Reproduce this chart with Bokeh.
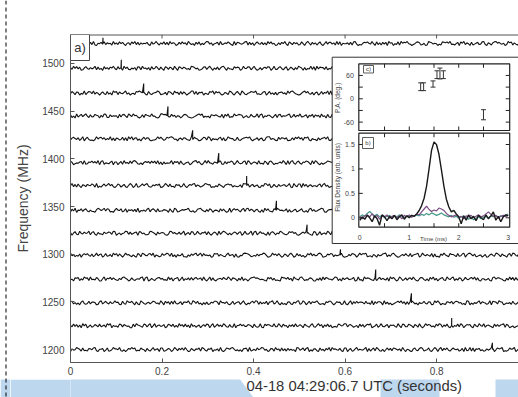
import numpy as np
from bokeh.plotting import figure
from bokeh.layouts import row, column
from bokeh.models import Range1d, FixedTicker
from bokeh.embed import file_html
from bokeh.resources import INLINE
from bokeh.core.properties import value

# ------------------------------------------------------------------ data
chan_freq = [1521, 1495, 1469, 1445, 1421, 1396, 1372, 1346, 1322, 1299, 1274, 1249, 1225, 1200]
spike_time = [0.071, 0.111, 0.160, 0.213, 0.267, 0.324, 0.385, 0.450, 0.517, 0.590, 0.667, 0.745, 0.833, 0.922]
spike_height = [6, 9, 10, 10, 9, 10, 10, 10, 9, 6, 10, 10, 8, 7]
noise_unit = 0.47  # MHz per digit step
noise = [
    "53746 28195 46372 91054 73826 45193 62847 30561 84927 16354 72083 59416 38271 94650 27384 61952 40738 15269 83604 57192 36485 20917 64358 91726 05843 72619 48350 16274 93085 27461"
    "28406 95173 61582 04937 73619 28054 46271 89302 15768 53940 82617 37095 60428 19576 94302 47861 25019 76354 03187 68592 31470 85926 40713 57238 92064 16895 74350 29681 63147 08523",
    "62948 37015 84263 59172 40836 27594 18360 94721 53608 71945 26083 49517 30862 75194 08637 52419 86350 13782 69405 27158 94063 31857 60294 48715 93026 15748 70392 26841 58037 41629"
    "75061 43928 09376 62814 38592 91047 26735 54180 87263 10459 69832 42176 05398 78614 31057 96243 57820 24691 80375 13964 69208 45713 02856 97340 36182 71495 58027 14369 89652 40718",
    "38517 60429 15873 92640 47318 25096 81743 69250 34187 97562 08314 56971 23608 74195 61827 40359 92816 57043 18692 85730 26419 73058 40962 14587 69231 37804 82516 05673 51948 96320"
    "14795 83260 57038 26491 90614 43857 72103 38962 65247 01589 49376 86120 23754 57069 94813 12645 60398 85271 31907 76432 48516 03298 67154 29843 95607 18372 52089 74163 36920 81547",
    "71409 25836 94172 38650 62981 17354 50827 84196 39562 02718 65394 41029 97853 28461 54037 86210 13579 69142 40765 75328 08491 32956 87603 51284 24917 90536 63048 17825 45791 38264"
    "92357 06481 74619 35082 18724 60935 43596 97218 26045 81573 50869 13742 69204 34587 87126 20935 56471 03718 79362 41850 95623 28147 64098 12536 47985 86201 30754 53619 09842 65370",
    "26853 71490 58312 03947 84725 39160 65238 17094 92671 40583 76102 24958 51386 89734 05627 63219 38540 14872 97053 42681 70396 55128 21467 86930 34715 60289 93541 08376 47012 72859"
    "47186 92053 30725 68491 15938 82604 59271 24367 76810 43592 08145 91763 37028 65419 20584 73196 46302 91857 58634 17290 84715 36048 62193 95731 01846 29567 73482 40915 86273 13059",
    "85024 36719 12658 47390 79143 25806 60471 93528 38962 14057 57384 82916 06243 49175 71830 35602 68947 20493 94316 53781 17265 86049 42378 09614 65192 31850 78403 24639 50917 93168"
    "31658 74092 96204 13587 65819 40236 27945 83061 50372 19684 84510 26973 72648 09135 43897 61502 18726 95340 37061 82459 69834 04721 51967 28305 76148 43592 90617 15284 64930 37865",
    "49271 83065 27548 61903 15836 94720 38614 72059 60391 25847 93126 47580 14962 82307 56139 30475 89264 13598 67021 42853 05786 71432 36098 98157 24610 53984 80273 17346 62591 09428"
    "80937 15624 42681 79350 23496 58013 71852 06349 94125 36708 57493 81260 26057 43918 69384 15726 30591 87642 52168 09473 73805 46291 18524 95637 61049 27386 84715 30962 57218 12847",
    "17390 54826 83152 20697 46938 71205 95481 38064 62719 04352 79168 51823 36540 83097 12465 67931 40278 95316 28604 54183 73029 06857 41692 89375 15720 60948 32186 97453 48061 25713"
    "58214 07936 23579 81046 67302 94185 39658 12740 81426 57093 20961 46857 74318 03629 95172 38460 16893 52704 49235 81067 02749 65381 37516 29804 84671 53029 61398 07452 29586 76134",
    "60582 19437 45916 82063 31745 76298 03514 59827 24670 87351 12986 40735 65102 98463 37259 04618 71394 26581 83047 50926 97415 14762 68039 32590 79148 45207 06851 53974 21386 84610"
    "25749 63108 70381 45296 19637 52804 84062 37519 46193 20785 63518 87402 31974 56820 08356 94173 52681 30947 76405 19382 43859 07216 95024 68371 30798 51642 17356 84209 62913 48570",
    "93614 27058 58427 14936 70382 36195 82740 49563 15208 61974 37849 05312 84697 29150 63481 10527 47936 92845 35018 78264 21693 56071 04389 87512 42736 69840 13957 38402 75169 50283"
    "61402 85937 34896 01275 87153 46920 12638 75049 58791 23064 06347 89152 79520 14638 42815 67903 95364 28071 20749 53186 64182 37905 89637 12450 36015 74298 51743 06829 84296 15370",
    "34076 81529 67193 42850 05916 58374 21638 96402 73145 48907 90263 15784 62319 37056 80491 53728 26845 71930 49172 04563 85396 17640 62915 30478 96753 43108 58261 21097 74836 09542"
    "89513 26740 05271 93864 42698 15073 67345 80192 30957 64218 15836 42709 58402 96137 26739 41058 73150 84926 04682 19537 91527 60384 36849 27105 52361 08947 75410 62938 18276 40593",
    "78251 40693 13826 65017 92584 27349 56108 31965 84072 09631 46258 73419 50847 18293 24706 65931 97382 40516 12648 86095 53720 38146 71593 04268 49817 25380 67924 93051 30672 16489"
    "13960 48275 69412 30758 84037 56129 20591 73846 65283 41907 37750 92614 02468 59371 71896 24053 48327 60195 95032 17648 26874 51309 80415 36927 54139 08762 97602 43518 31485 67029",
    "52837 16094 80361 37528 24619 69053 41872 75340 08296 53187 26904 91563 47028 63815 19472 82609 35146 04738 70591 48362 96217 21905 58473 37640 83129 10857 64392 29518 45063 72934"
    "74085 31692 15947 06382 60231 87459 92674 13508 37158 69024 81493 25706 56319 40872 28640 75193 03957 62418 49716 38205 15382 96047 67208 42953 91564 20837 36791 85024 02459 63178",
    "06349 75182 31764 89205 57038 12496 64921 40375 96813 28540 73159 35608 81247 50396 27483 94017 42658 19731 65804 36192 03875 89524 14067 70913 52846 98350 27619 46182 61735 34098"
    "35827 90416 62083 51749 19564 37208 80471 26935 43690 71582 96215 04837 28753 61940 54106 83279 71348 20596 06927 48315 85461 37092 39180 65724 12635 97048 67902 13856 90374 52681",
]
freq_ticks = [1200, 1250, 1300, 1350, 1400, 1450, 1500]
time_ticks = [0, 0.2, 0.4, 0.6, 0.8]
time_tick_labels = ["0", "0.2", "0.4", "0.6", "0.8"]
y_title = "Frequency (MHz)"
x_title = "04-18 04:29:06.7 UTC (seconds)"

# inset: pulse profile (ms) and position angle
prof_time = [round(0.05 * i, 2) for i in range(61)]
flux_total = [-0.05, 0.02, -0.03, 0.05, 0.0, -0.08, 0.04, -0.02, -0.15, 0.06,
              0.02, -0.06, 0.03, -0.02, 0.05, -0.04, 0.02, 0.06, -0.03, 0.04,
              0.0, 0.05, 0.03, 0.08, 0.15, 0.25, 0.40, 0.65, 1.00, 1.38,
              1.55, 1.50, 1.30, 0.98, 0.65, 0.38, 0.22, 0.12, 0.15, 0.08,
              0.02, -0.12, 0.04, -0.05, 0.06, -0.02, 0.03, -0.06, 0.05, 0.0,
              -0.04, 0.06, -0.02, 0.04, 0.12, -0.05, 0.03, -0.08, 0.02, 0.06, 0.04]
flux_purple = [0.03, -0.02, 0.04, 0.06, 0.02, 0.08, 0.01, 0.05, -0.03, 0.04,
               0.02, 0.06, -0.01, 0.03, 0.05, 0.0, 0.04, -0.02, 0.05, 0.02,
               0.06, 0.01, 0.04, 0.08, 0.06, 0.12, 0.18, 0.24, 0.17, 0.13,
               0.16, 0.14, 0.20, 0.18, 0.15, 0.09, 0.05, 0.02, 0.04, 0.06,
               0.01, 0.03, -0.02, 0.04, 0.02, 0.05, 0.0, 0.03, 0.06, 0.02,
               0.04, 0.08, 0.12, 0.07, 0.03, 0.05, -0.01, 0.03, 0.05, 0.02, 0.06]
flux_green = [0.02, 0.06, 0.03, 0.09, 0.13, 0.08, 0.04, 0.07, 0.02, 0.05,
              0.0, 0.03, 0.05, 0.01, 0.04, 0.02, 0.06, 0.03, 0.0, 0.04,
              0.02, 0.05, 0.03, 0.06, 0.04, 0.07, 0.05, 0.09, 0.06, 0.10,
              0.08, 0.05, 0.07, 0.10, 0.06, 0.04, 0.02, 0.05, 0.01, 0.03,
              -0.01, 0.02, 0.04, 0.0, -0.03, 0.01, -0.04, -0.01, 0.02, -0.02,
              0.01, 0.03, 0.0, 0.04, 0.02, 0.05, 0.01, 0.04, 0.02, 0.05, 0.08]
pa_time = [1.23, 1.29, 1.48, 1.56, 1.62, 1.69, 2.50]
pa_deg = [31, 31, 38, 62, 65, 62, -41]
pa_err = [10, 10, 8, 10, 14, 10, 13]

inset_time_ticks = [0, 1, 2, 3]
inset_time_ticks_all = [0.5, 1, 1.5, 2, 2.5]
pa_ticks = [60, 0, -60]
pa_ticks_all = [60, 30, 0, -30, -60]
flux_ticks = [1.5, 1, 0.5, 0]
flux_tick_labels = ["1.5", "1", "0.5", "0"]

# ------------------------------------------------------------------ geometry (page px)
PAGE_W, PAGE_H = 518, 397
STRIP_W = 10            # left strip carrying the dashed page rule
STRIP_TOP = 379         # bottom strip (highlight boxes + axis title) starts here
FRAME_L, FRAME_T = 70, 34
W = PAGE_W - STRIP_W
H = STRIP_TOP
BL, BT = FRAME_L - STRIP_W, FRAME_T
FW, FH = W - BL, 328
BB = H - BT - FH
XR = (0.0, 0.979)
YR = (1186.4, 1530.4)
IX = (-5.848, 3.208)
IPA = (-678.1, 165.3)
IFL = (-2.961, 3.751)
FONT = "Liberation Sans"
TXT = "#444444"
AXC = "#555555"
BLUE = "#bdd7ee"


def px_x(px):
    return XR[0] + (px - FRAME_L) / FW * (XR[1] - XR[0])


def px_y(py):
    return YR[1] - (py - FRAME_T) / FH * (YR[1] - YR[0])


p = figure(width=W, height=H, x_range=Range1d(*XR), y_range=Range1d(*YR),
           output_backend="svg", toolbar_location=None,
           min_border_left=BL, min_border_right=0, min_border_top=BT,
           min_border_bottom=BB)
p.extra_x_ranges = {"ix": Range1d(*IX)}
p.extra_y_ranges = {"ipa": Range1d(*IPA), "ifl": Range1d(*IFL)}
p.outline_line_color = None
p.xgrid.visible = False
p.ygrid.visible = False
p.background_fill_color = "white"
p.border_fill_color = "white"

for ax in (p.xaxis[0], p.yaxis[0]):
    ax.major_tick_in = 4
    ax.major_tick_out = 0
    ax.minor_tick_in = 0
    ax.minor_tick_out = 0
    ax.axis_line_color = AXC
    ax.major_tick_line_color = AXC
    ax.major_label_text_color = TXT
    ax.major_label_text_font = FONT
    ax.major_label_text_font_size = "10px"
p.xaxis[0].ticker = FixedTicker(ticks=time_ticks)
p.xaxis[0].major_label_overrides = dict(zip(time_ticks, time_tick_labels))
p.xaxis[0].major_label_standoff = 4
p.yaxis[0].ticker = FixedTicker(ticks=freq_ticks)
p.yaxis[0].major_label_standoff = 6
p.yaxis[0].axis_label = y_title
p.yaxis[0].axis_label_text_font = FONT
p.yaxis[0].axis_label_text_font_size = "14px"
p.yaxis[0].axis_label_text_font_style = "normal"
p.yaxis[0].axis_label_text_color = TXT
p.yaxis[0].axis_label_standoff = 8

# top frame edge with inward ticks
tick_len_main = 4 / FH * (YR[1] - YR[0])
p.segment(x0=[XR[0]], y0=[YR[1]], x1=[1.0], y1=[YR[1]], line_color=AXC, line_width=2)
p.segment(x0=time_ticks, y0=[YR[1]] * len(time_ticks), x1=time_ticks,
          y1=[YR[1] - tick_len_main] * len(time_ticks), line_color=AXC, line_width=1)

# ------------------------------------------------------------------ channel traces
xs, ys = [], []
for f0, s, ts, hs in zip(chan_freq, noise, spike_time, spike_height):
    d = np.array([int(c) for c in s.replace(" ", "")], dtype=float)
    t = np.linspace(0.0, 1.0, len(d))
    y = f0 + (d - 4.5) * noise_unit
    k = int(np.searchsorted(t, ts))
    t = np.concatenate([t[:k], [ts, ts], t[k:]])
    y = np.concatenate([y[:k], [f0 + hs, f0], y[k:]])
    xs.append(list(t))
    ys.append(list(y))
p.multi_line(xs, ys, line_color="#121212", line_width=1.1)

# "a)" box
p.quad(left=[XR[0]], right=[px_x(89)], top=[YR[1]], bottom=[px_y(60)],
       fill_color="white", line_color="#444444", line_width=1)
p.text(x=[(XR[0] + px_x(89)) / 2], y=[px_y(47)], text=["a)"], text_align="center",
       text_baseline="middle", text_font=value(FONT), text_font_size=value("13px"),
       text_color="#333333")

# ------------------------------------------------------------------ inset
def ix_px(px):
    return (px - 359.3) / 49.47


def ifl_px(py):
    return (217.3 - py) / 48.87


def ipa_px(py):
    return (98.3 - py) / 0.3889


PX0, PX1 = -0.02, 3.03
PA0, PA1 = -81.5, 90
FL0, FL1 = -0.192, 1.731

p.quad(left=[ix_px(331.7)], right=[3.6], top=[ifl_px(56.7)], bottom=[ifl_px(243)],
       fill_color="white", line_color="#333333", line_width=1,
       x_range_name="ix", y_range_name="ifl")

p.line(prof_time, flux_green, line_color="#47998a", line_width=1.2, x_range_name="ix", y_range_name="ifl")
p.line(prof_time, flux_purple, line_color="#7d4e85", line_width=1.2, x_range_name="ix", y_range_name="ifl")
p.line(prof_time, flux_total, line_color="#1a1a1a", line_width=1.4, x_range_name="ix", y_range_name="ifl")

lo = [a - e for a, e in zip(pa_deg, pa_err)]
hi = [a + e for a, e in zip(pa_deg, pa_err)]
p.segment(x0=pa_time, y0=lo, x1=pa_time, y1=hi, line_color="#333333", line_width=1,
          x_range_name="ix", y_range_name="ipa")
cap = 0.05
p.segment(x0=[t - cap for t in pa_time], y0=lo, x1=[t + cap for t in pa_time], y1=lo,
          line_color="#333333", line_width=1, x_range_name="ix", y_range_name="ipa")
p.segment(x0=[t - cap for t in pa_time], y0=hi, x1=[t + cap for t in pa_time], y1=hi,
          line_color="#333333", line_width=1, x_range_name="ix", y_range_name="ipa")

p.quad(left=[PX0], right=[PX1], top=[PA1], bottom=[PA0], fill_alpha=0,
       line_color="#222222", line_width=1.2, x_range_name="ix", y_range_name="ipa")
p.quad(left=[PX0], right=[PX1], top=[FL1], bottom=[FL0], fill_alpha=0,
       line_color="#222222", line_width=1.2, x_range_name="ix", y_range_name="ifl")

tl_ms, tl_pa, tl_fl = 4 / 49.47, 4 / 0.3889, 4 / 48.87
tk = dict(line_color="#222222", line_width=1, x_range_name="ix")
p.segment(x0=[PX0] * 5, y0=pa_ticks_all, x1=[PX0 + tl_ms] * 5, y1=pa_ticks_all, y_range_name="ipa", **tk)
p.segment(x0=[PX1] * 5, y0=pa_ticks_all, x1=[PX1 - tl_ms] * 5, y1=pa_ticks_all, y_range_name="ipa", **tk)
p.segment(x0=inset_time_ticks_all, y0=[PA1] * 5, x1=inset_time_ticks_all, y1=[PA1 - tl_pa] * 5, y_range_name="ipa", **tk)
p.segment(x0=inset_time_ticks_all, y0=[PA0] * 5, x1=inset_time_ticks_all, y1=[PA0 + tl_pa] * 5, y_range_name="ipa", **tk)
p.segment(x0=[PX0] * 4, y0=flux_ticks, x1=[PX0 + tl_ms] * 4, y1=flux_ticks, y_range_name="ifl", **tk)
p.segment(x0=[PX1] * 4, y0=flux_ticks, x1=[PX1 - tl_ms] * 4, y1=flux_ticks, y_range_name="ifl", **tk)
p.segment(x0=inset_time_ticks_all, y0=[FL1] * 5, x1=inset_time_ticks_all, y1=[FL1 - tl_fl] * 5, y_range_name="ifl", **tk)
p.segment(x0=inset_time_ticks_all, y0=[FL0] * 5, x1=inset_time_ticks_all, y1=[FL0 + tl_fl] * 5, y_range_name="ifl", **tk)

small = dict(text_font=value(FONT), text_color=TXT, x_range_name="ix")
p.text(x=[-0.12] * 3, y=pa_ticks, text=[str(v) for v in pa_ticks], text_align="right",
       text_baseline="middle", text_font_size=value("7px"), y_range_name="ipa", **small)
p.text(x=[-0.10] * 4, y=flux_ticks, text=flux_tick_labels, text_align="right",
       text_baseline="middle", text_font_size=value("7px"), y_range_name="ifl", **small)
p.text(x=inset_time_ticks, y=[-0.41] * 4, text=[str(v) for v in inset_time_ticks],
       text_align="center", text_baseline="middle", text_font_size=value("7px"),
       y_range_name="ifl", **small)
p.text(x=[1.49], y=[-0.44], text=["Time (ms)"], text_align="center", text_baseline="middle",
       text_font_size=value("6px"), y_range_name="ifl", **small)
p.text(x=[ix_px(337)], y=[ipa_px(97.5)], text=["P.A. (deg.)"], angle=np.pi / 2,
       text_align="center", text_baseline="middle", text_font_size=value("6.5px"),
       y_range_name="ipa", **small)
p.text(x=[ix_px(337)], y=[ifl_px(177)], text=["Flux Density (arb. units)"], angle=np.pi / 2,
       text_align="center", text_baseline="middle", text_font_size=value("6.5px"),
       y_range_name="ifl", **small)

p.quad(left=[ix_px(363)], right=[ix_px(373)], top=[ipa_px(65)], bottom=[ipa_px(72.5)],
       fill_color="white", line_color="#333333", line_width=0.8, x_range_name="ix", y_range_name="ipa")
p.text(x=[ix_px(368)], y=[ipa_px(68.8)], text=["c)"], text_align="center", text_baseline="middle",
       text_font_size=value("6px"), y_range_name="ipa", **small)
p.quad(left=[ix_px(362)], right=[ix_px(373)], top=[ifl_px(137)], bottom=[ifl_px(148)],
       fill_color="white", line_color="#333333", line_width=0.8, x_range_name="ix", y_range_name="ifl")
p.text(x=[ix_px(367.5)], y=[ifl_px(142.5)], text=["b)"], text_align="center", text_baseline="middle",
       text_font_size=value("6px"), y_range_name="ifl", **small)


# ------------------------------------------------------------------ page strips (pixel ranges)
def bare(width, height, xr, yr):
    f = figure(width=width, height=height, x_range=Range1d(*xr), y_range=Range1d(*yr),
               output_backend="svg", toolbar_location=None, min_border=0,
               x_axis_location=None, y_axis_location=None)
    f.outline_line_color = None
    f.xgrid.visible = False
    f.ygrid.visible = False
    f.background_fill_color = "white"
    f.border_fill_color = "white"
    return f


# left strip: dashed page rule (y measured downward from page top)
left = bare(STRIP_W, PAGE_H, (0, STRIP_W), (PAGE_H, 0))
left.quad(left=[0], right=[STRIP_W], top=[379], bottom=[PAGE_H], fill_color=BLUE, line_color=None)
left.segment(x0=[5.5], y0=[0], x1=[5.5], y1=[PAGE_H], line_color="black", line_width=1,
             line_dash="4 3")

# bottom strip: highlight boxes and the time-axis title; its frame is aligned with
# the main frame, so the part left of it is the (blue) border fill
bottom = bare(W, PAGE_H - STRIP_TOP, (FRAME_L, PAGE_W), (PAGE_H, STRIP_TOP))
bottom.border_fill_color = BLUE
bottom.patch(x=[FRAME_L - 5, 236, 253, FRAME_L - 5], y=[STRIP_TOP - 5, STRIP_TOP - 5, PAGE_H, PAGE_H],
             fill_color=BLUE, line_color=None)
bottom.quad(left=[380, 495], right=[439, PAGE_W + 5], top=[STRIP_TOP - 5, STRIP_TOP - 5],
            bottom=[PAGE_H, PAGE_H], fill_color=BLUE, line_color=None)
bottom.text(x=[246], y=[385.5], text=[x_title], text_align="left", text_baseline="middle",
            text_font=value(FONT), text_font_size=value("14.8px"), text_color="#333333")

layout = row(left, column(p, bottom))
open("out.html", "w").write(file_html(layout, INLINE))
